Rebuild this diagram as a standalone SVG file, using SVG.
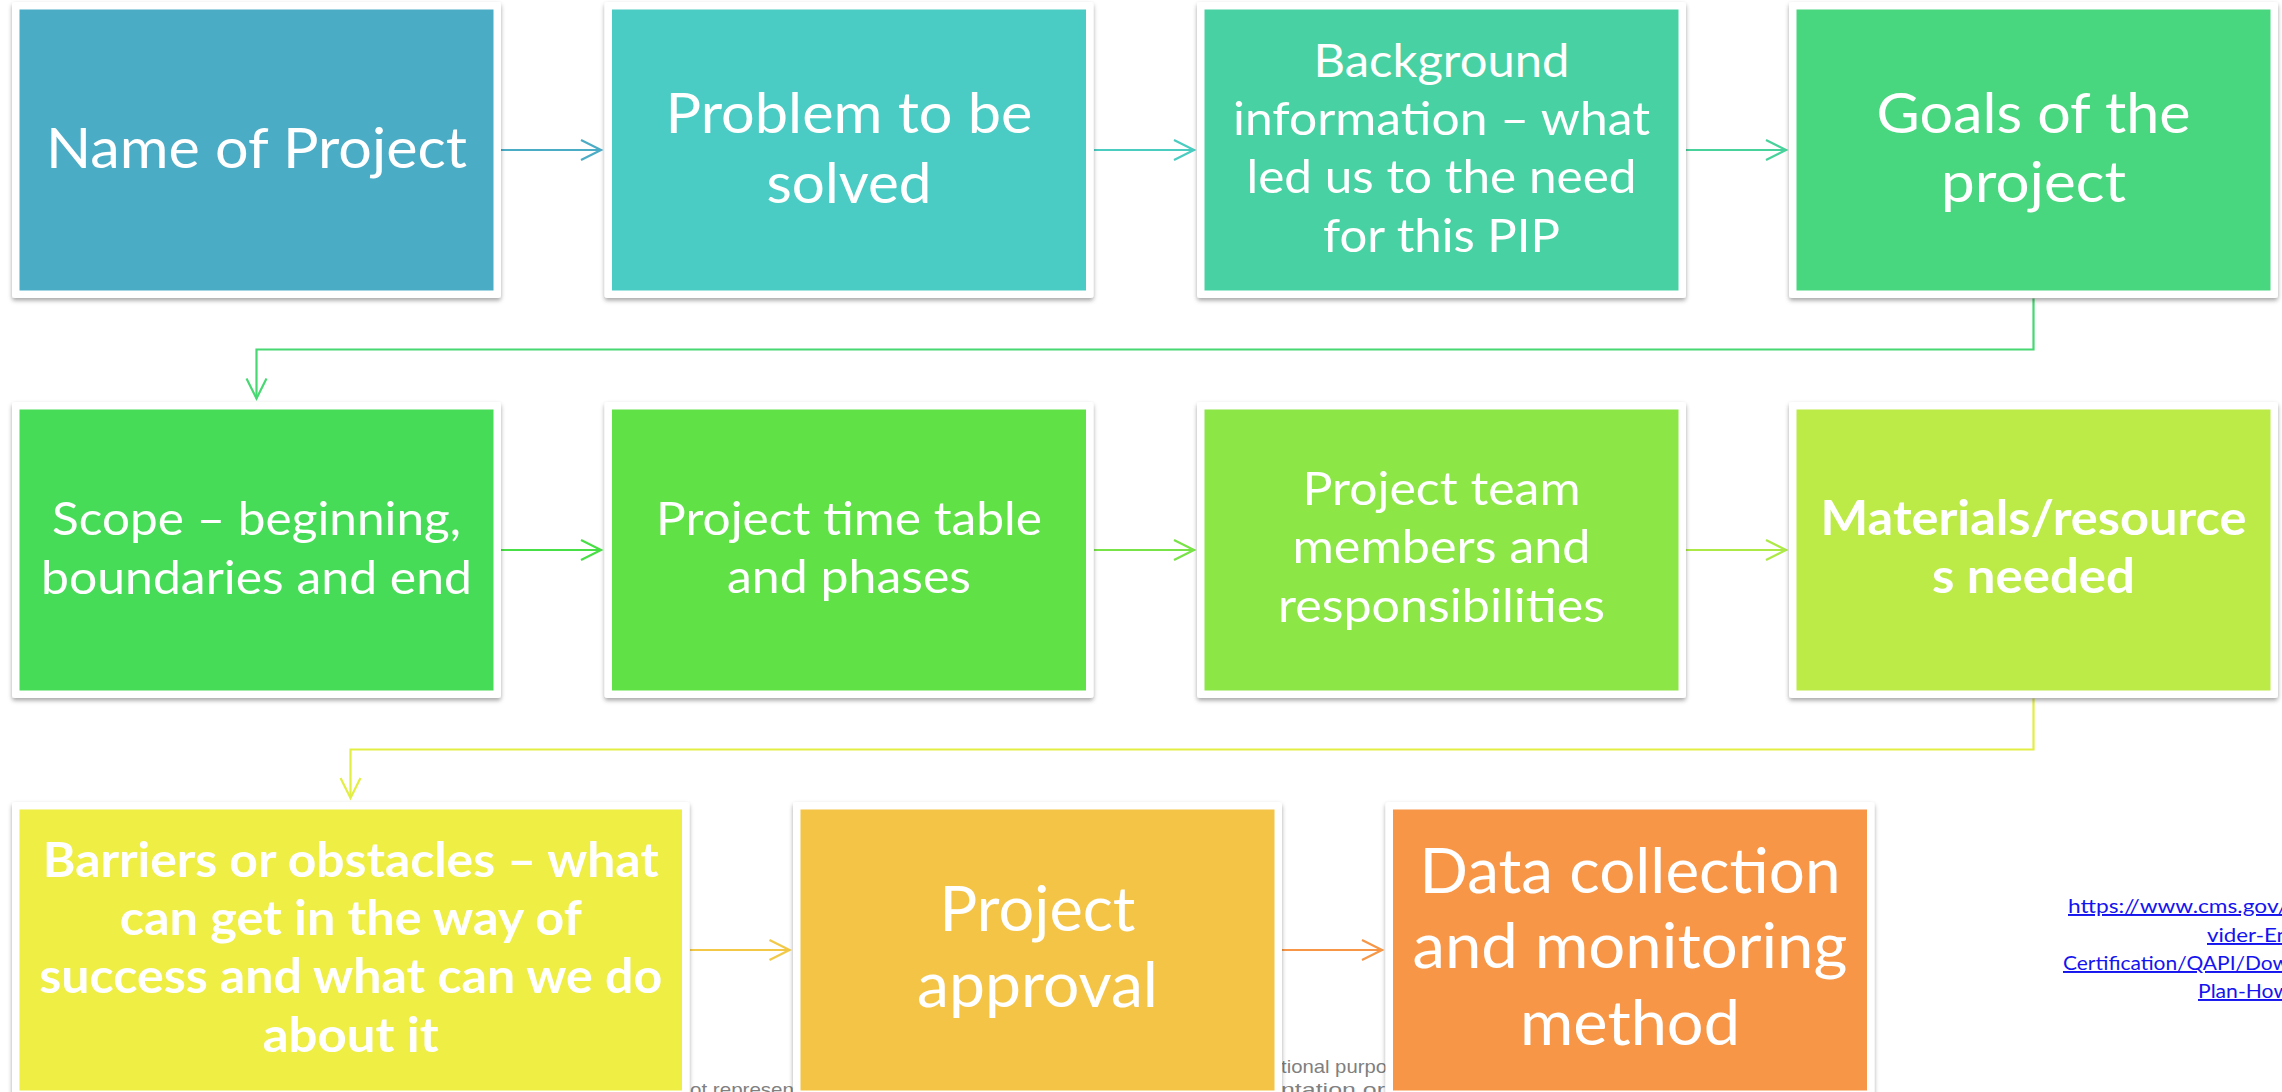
<svg xmlns="http://www.w3.org/2000/svg" width="2282" height="1092" viewBox="0 0 2282 1092">
  <style>
    .frame { fill: #ffffff; filter: url(#shadow); }
    .lbl { font-family: Lato, "Open Sans", "Liberation Sans", sans-serif; fill: #ffffff; text-anchor: middle; }
    .b { font-weight: 700; }
    .conn { fill: none; stroke-width: 2.2; }
    .note { font-family: "Liberation Sans", Arial, sans-serif; font-size: 19px; fill: #808080; }
    .link { font-family: Lato, "Open Sans", "Liberation Sans", sans-serif; font-size: 19.5px; fill: #1414EE; text-decoration: underline; }
  </style>
  <defs>
    <filter id="shadow" x="-5%" y="-5%" width="110%" height="115%">
      <feDropShadow dx="0" dy="2.5" stdDeviation="2.2" flood-color="#000000" flood-opacity="0.35"/>
    </filter>
    <marker id="a0" markerUnits="userSpaceOnUse" markerWidth="24" markerHeight="24" refX="21" refY="11" orient="auto" overflow="visible"><path d="M1,1 L21,11 L1,21" fill="none" stroke="#4BACC6" stroke-width="2.2"/></marker>
    <marker id="a1" markerUnits="userSpaceOnUse" markerWidth="24" markerHeight="24" refX="21" refY="11" orient="auto" overflow="visible"><path d="M1,1 L21,11 L1,21" fill="none" stroke="#4ACCC1" stroke-width="2.2"/></marker>
    <marker id="a2" markerUnits="userSpaceOnUse" markerWidth="24" markerHeight="24" refX="21" refY="11" orient="auto" overflow="visible"><path d="M1,1 L21,11 L1,21" fill="none" stroke="#48D29B" stroke-width="2.2"/></marker>
    <marker id="a3" markerUnits="userSpaceOnUse" markerWidth="24" markerHeight="24" refX="21" refY="11" orient="auto" overflow="visible"><path d="M1,1 L21,11 L1,21" fill="none" stroke="#47D872" stroke-width="2.2"/></marker>
    <marker id="a4" markerUnits="userSpaceOnUse" markerWidth="24" markerHeight="24" refX="21" refY="11" orient="auto" overflow="visible"><path d="M1,1 L21,11 L1,21" fill="none" stroke="#48DE46" stroke-width="2.2"/></marker>
    <marker id="a5" markerUnits="userSpaceOnUse" markerWidth="24" markerHeight="24" refX="21" refY="11" orient="auto" overflow="visible"><path d="M1,1 L21,11 L1,21" fill="none" stroke="#78E346" stroke-width="2.2"/></marker>
    <marker id="a6" markerUnits="userSpaceOnUse" markerWidth="24" markerHeight="24" refX="21" refY="11" orient="auto" overflow="visible"><path d="M1,1 L21,11 L1,21" fill="none" stroke="#ACE946" stroke-width="2.2"/></marker>
    <marker id="a7" markerUnits="userSpaceOnUse" markerWidth="24" markerHeight="24" refX="21" refY="11" orient="auto" overflow="visible"><path d="M1,1 L21,11 L1,21" fill="none" stroke="#E3EE45" stroke-width="2.2"/></marker>
    <marker id="a8" markerUnits="userSpaceOnUse" markerWidth="24" markerHeight="24" refX="21" refY="11" orient="auto" overflow="visible"><path d="M1,1 L21,11 L1,21" fill="none" stroke="#F2C846" stroke-width="2.2"/></marker>
    <marker id="a9" markerUnits="userSpaceOnUse" markerWidth="24" markerHeight="24" refX="21" refY="11" orient="auto" overflow="visible"><path d="M1,1 L21,11 L1,21" fill="none" stroke="#F79646" stroke-width="2.2"/></marker>
  </defs>

  <rect x="0" y="0" width="2282" height="1092" fill="#ffffff"/>

  <!-- footer text lying underneath the bottom row -->
  <g id="footer-notes">
    <text class="note" x="1281" y="1073" textLength="106" lengthAdjust="spacingAndGlyphs">tional purpo</text>
    <text class="note" x="1281" y="1096" textLength="104" lengthAdjust="spacingAndGlyphs">ntation or</text>
    <text class="note" x="690" y="1096" textLength="104" lengthAdjust="spacingAndGlyphs">ot represen</text>
  </g>

  <!-- source link, right edge -->
  <g id="source-link">
    <text class="link" x="2068" y="913" textLength="220" lengthAdjust="spacingAndGlyphs">https://www.cms.gov/</text>
    <text class="link" x="2207" y="942" textLength="82" lengthAdjust="spacingAndGlyphs">vider-En</text>
    <text class="link" x="2063" y="970" textLength="226" lengthAdjust="spacingAndGlyphs">Certification/QAPI/Dow</text>
    <text class="link" x="2198" y="998" textLength="92" lengthAdjust="spacingAndGlyphs">Plan-How</text>
  </g>

  <!-- connectors -->
  <g id="connectors">
    <path class="conn" stroke="#4BACC6" d="M501,150 H601" marker-end="url(#a0)"/>
    <path class="conn" stroke="#4ACCC1" d="M1094,150 H1194" marker-end="url(#a1)"/>
    <path class="conn" stroke="#48D29B" d="M1686,150 H1786" marker-end="url(#a2)"/>
    <path class="conn" stroke="#47D872" d="M2033.5,298.5 V349.5 H256.5 V398.5" marker-end="url(#a3)"/>
    <path class="conn" stroke="#48DE46" d="M501,550 H601" marker-end="url(#a4)"/>
    <path class="conn" stroke="#78E346" d="M1094,550 H1194" marker-end="url(#a5)"/>
    <path class="conn" stroke="#ACE946" d="M1686,550 H1786" marker-end="url(#a6)"/>
    <path class="conn" stroke="#E3EE45" d="M2033.5,698.5 V749.5 H350.5 V798" marker-end="url(#a7)"/>
    <path class="conn" stroke="#F2C846" d="M690,950 H789.5" marker-end="url(#a8)"/>
    <path class="conn" stroke="#F79646" d="M1282,950 H1382" marker-end="url(#a9)"/>
  </g>

  <!-- row 1 -->
  <g id="node-name">
    <rect class="frame" x="12" y="2" width="489" height="296" rx="3"/>
    <rect x="19.5" y="9.5" width="474" height="281" fill="#4BACC6"/>
    <text class="lbl" x="256.5" y="168" font-size="56" textLength="421" lengthAdjust="spacingAndGlyphs">Name of Project</text>
  </g>
  <g id="node-problem">
    <rect class="frame" x="604.5" y="2" width="489" height="296" rx="3"/>
    <rect x="612" y="9.5" width="474" height="281" fill="#4ACCC4"/>
    <text class="lbl" x="849" y="133.3" font-size="57" textLength="367" lengthAdjust="spacingAndGlyphs">Problem to be</text>
    <text class="lbl" x="849" y="202.7" font-size="57" textLength="165" lengthAdjust="spacingAndGlyphs">solved</text>
  </g>
  <g id="node-background">
    <rect class="frame" x="1197" y="2" width="489" height="296" rx="3"/>
    <rect x="1204.5" y="9.5" width="474" height="281" fill="#48D1A3"/>
    <text class="lbl" x="1441.5" y="76.7" font-size="47" textLength="256" lengthAdjust="spacingAndGlyphs">Background</text>
    <text class="lbl" x="1441.5" y="135" font-size="47" textLength="417" lengthAdjust="spacingAndGlyphs">information – what</text>
    <text class="lbl" x="1441.5" y="193.3" font-size="47" textLength="390" lengthAdjust="spacingAndGlyphs">led us to the need</text>
    <text class="lbl" x="1441.5" y="251.7" font-size="47" textLength="237" lengthAdjust="spacingAndGlyphs">for this PIP</text>
  </g>
  <g id="node-goals">
    <rect class="frame" x="1789" y="2" width="489" height="296" rx="3"/>
    <rect x="1796.5" y="9.5" width="474" height="281" fill="#48D67F"/>
    <text class="lbl" x="2033.5" y="133.3" font-size="56" textLength="314" lengthAdjust="spacingAndGlyphs">Goals of the</text>
    <text class="lbl" x="2033.5" y="201.7" font-size="56" textLength="185" lengthAdjust="spacingAndGlyphs">project</text>
  </g>

  <!-- row 2 -->
  <g id="node-scope">
    <rect class="frame" x="12" y="402" width="489" height="296" rx="3"/>
    <rect x="19.5" y="409.5" width="474" height="281" fill="#47DC57"/>
    <text class="lbl" x="256.5" y="535" font-size="47" textLength="409" lengthAdjust="spacingAndGlyphs">Scope – beginning,</text>
    <text class="lbl" x="256.5" y="594" font-size="47" textLength="431" lengthAdjust="spacingAndGlyphs">boundaries and end</text>
  </g>
  <g id="node-timetable">
    <rect class="frame" x="604.5" y="402" width="489" height="296" rx="3"/>
    <rect x="612" y="409.5" width="474" height="281" fill="#60E146"/>
    <text class="lbl" x="849" y="535" font-size="47" textLength="386" lengthAdjust="spacingAndGlyphs">Project time table</text>
    <text class="lbl" x="849" y="593.3" font-size="47" textLength="244" lengthAdjust="spacingAndGlyphs">and phases</text>
  </g>
  <g id="node-team">
    <rect class="frame" x="1197" y="402" width="489" height="296" rx="3"/>
    <rect x="1204.5" y="409.5" width="474" height="281" fill="#8CE646"/>
    <text class="lbl" x="1441.5" y="505" font-size="47" textLength="278" lengthAdjust="spacingAndGlyphs">Project team</text>
    <text class="lbl" x="1441.5" y="563.3" font-size="47" textLength="298" lengthAdjust="spacingAndGlyphs">members and</text>
    <text class="lbl" x="1441.5" y="621.7" font-size="47" textLength="327" lengthAdjust="spacingAndGlyphs">responsibilities</text>
  </g>
  <g id="node-materials">
    <rect class="frame" x="1789" y="402" width="489" height="296" rx="3"/>
    <rect x="1796.5" y="409.5" width="474" height="281" fill="#BCEA46"/>
    <text class="lbl b" x="2033.5" y="535" font-size="47" textLength="426" lengthAdjust="spacingAndGlyphs">Materials/resource</text>
    <text class="lbl b" x="2033.5" y="593.3" font-size="47" textLength="203" lengthAdjust="spacingAndGlyphs">s needed</text>
  </g>

  <!-- row 3 -->
  <g id="node-barriers">
    <rect class="frame" x="12" y="802" width="677.5" height="296" rx="3"/>
    <rect x="19.5" y="809.5" width="662.5" height="281" fill="#EEEE45"/>
    <text class="lbl b" x="350.75" y="876.7" font-size="47" textLength="616" lengthAdjust="spacingAndGlyphs">Barriers or obstacles – what</text>
    <text class="lbl b" x="350.75" y="935" font-size="47" textLength="462" lengthAdjust="spacingAndGlyphs">can get in the way of</text>
    <text class="lbl b" x="350.75" y="993.3" font-size="47" textLength="623" lengthAdjust="spacingAndGlyphs">success and what can we do</text>
    <text class="lbl b" x="350.75" y="1051.7" font-size="47" textLength="176" lengthAdjust="spacingAndGlyphs">about it</text>
  </g>
  <g id="node-approval">
    <rect class="frame" x="793" y="802" width="489" height="296" rx="3"/>
    <rect x="800.5" y="809.5" width="474" height="281" fill="#F3C446"/>
    <text class="lbl" x="1037.5" y="931" font-size="61" textLength="196" lengthAdjust="spacingAndGlyphs">Project</text>
    <text class="lbl" x="1037.5" y="1006.7" font-size="61" textLength="241" lengthAdjust="spacingAndGlyphs">approval</text>
  </g>
  <g id="node-data">
    <rect class="frame" x="1385.5" y="802" width="489" height="296" rx="3"/>
    <rect x="1393" y="809.5" width="474" height="281" fill="#F79646"/>
    <text class="lbl" x="1630" y="892.7" font-size="61" textLength="421" lengthAdjust="spacingAndGlyphs">Data collection</text>
    <text class="lbl" x="1630" y="968.3" font-size="61" textLength="435" lengthAdjust="spacingAndGlyphs">and monitoring</text>
    <text class="lbl" x="1630" y="1045" font-size="61" textLength="220" lengthAdjust="spacingAndGlyphs">method</text>
  </g>
</svg>
